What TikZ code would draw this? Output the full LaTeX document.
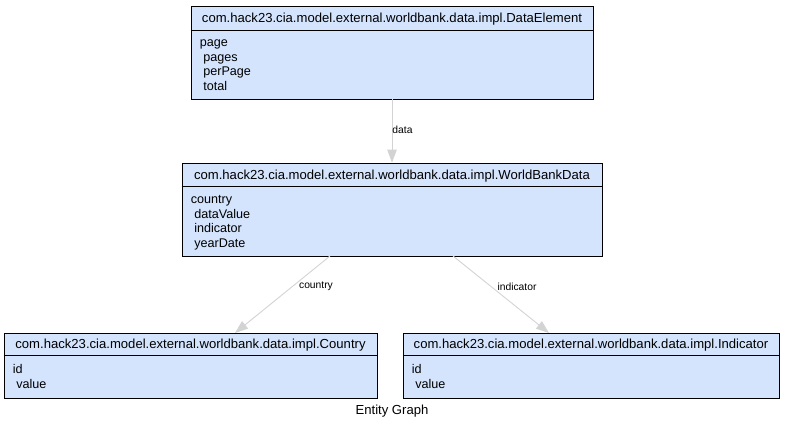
\documentclass[tikz,border=0pt]{standalone}
\usepackage{fontspec}
\setmainfont{Liberation Sans}
\usetikzlibrary{arrows.meta,positioning}
\definecolor{entityfill}{RGB}{212,228,252}
\definecolor{linkgray}{RGB}{211,211,211}
\tikzset{
  entity/.style={draw=black,fill=entityfill,line width=0.8pt,rectangle,inner sep=0pt},
  heading/.style={font=\fontsize{13.1}{14}\selectfont,inner sep=0pt},
  fields/.style={font=\fontsize{12.6}{14.6}\selectfont,align=left,inner sep=0pt,anchor=north west},
  link/.style={draw=linkgray,line width=0.9pt,-{Triangle[length=13pt,width=9.5pt]}},
  linklabel/.style={font=\fontsize{10.3}{11}\selectfont,inner sep=0pt}
}
\begin{document}
\begin{tikzpicture}[x=1pt,y=-1pt]
 \useasboundingbox (0,0) rectangle (786,429);
 % entity boxes
 \node (de) [entity,minimum width=402pt,minimum height=93pt] at (392,52.5) {};
 \node (wb) [entity,minimum width=420pt,minimum height=93pt] at (392,209.5) {};
 \node (co) [entity,minimum width=373pt,minimum height=65pt] at (190.5,365.5) {};
 \node (in) [entity,minimum width=376pt,minimum height=65pt] at (591,365.5) {};

 % separators
 \foreach \n/\d in {de/25,wb/24,co/23,in/23} {
  \draw[line width=0.8pt] ([yshift=-\d pt]\n.north west) -- ([yshift=-\d pt]\n.north east);
 }

 % headings
 \node (deh) [heading] at ([yshift=-14pt]de.north) {com.hack23.cia.model.external.worldbank.data.impl.DataElement};
 \node (wbh) [heading] at ([yshift=-13.5pt]wb.north) {com.hack23.cia.model.external.worldbank.data.impl.WorldBankData};
 \node (coh) [heading] at ([yshift=-13pt]co.north) {com.hack23.cia.model.external.worldbank.data.impl.Country};
 \node (inh) [heading] at ([yshift=-13pt]in.north) {com.hack23.cia.model.external.worldbank.data.impl.Indicator};

 % fields
 \node (def) [fields] at ([xshift=9pt,yshift=-34pt]de.north west) {page\\\ pages\\\ perPage\\\ total};
 \node (wbf) [fields] at ([xshift=9pt,yshift=-32.5pt]wb.north west) {country\\\ dataValue\\\ indicator\\\ yearDate};
 \node (cof) [fields] at ([xshift=9pt,yshift=-31.5pt]co.north west) {id\\\ value};
 \node (inf) [fields] at ([xshift=9pt,yshift=-31.5pt]in.north west) {id\\\ value};

 % links
 \coordinate (wbl) at (330,256);
 \coordinate (wbr) at (453,256);
 \coordinate (cot) at (235,333);
 \coordinate (int) at (549,333);
 \draw[link] (de.south) -- (wb.north);
 \draw[link] (wbl) -- (cot);
 \draw[link] (wbr) -- (int);
 \node (lda) [linklabel] at (402.5,130) {data};
 \node (lco) [linklabel] at (316,286.5) {country};
 \node (lin) [linklabel] at (517,286.5) {indicator};

 % caption
 \node (cap) [heading] at (392,411.5) {Entity Graph};
\end{tikzpicture}
\end{document}
